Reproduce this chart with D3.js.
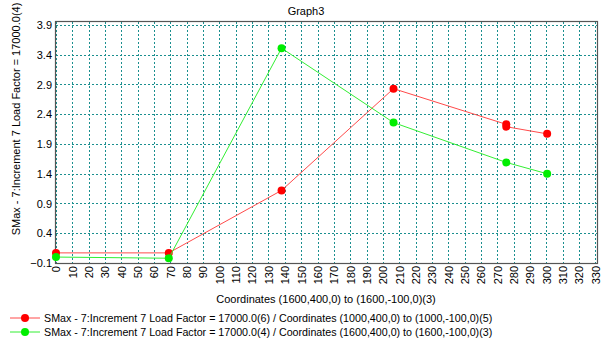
<!DOCTYPE html>
<html><head><meta charset="utf-8">
<script src="https://cdn.jsdelivr.net/npm/d3@7"></script>
<style>
body{margin:0;background:#fff;}
text{font-family:"Liberation Sans",Arial,sans-serif;fill:#000;}
</style></head>
<body><svg id="c" width="602" height="342"></svg>
<script>
const title = "Graph3";
const xLabel = "Coordinates (1600,400,0) to (1600,-100,0)(3)";
const yLabel = "SMax - 7:Increment 7 Load Factor = 17000.0(4)";
const xTicks = d3.range(0, 331, 10);
const yTicks = [-0.1, 0.4, 0.9, 1.4, 1.9, 2.4, 2.9, 3.4, 3.9];
const redName = "SMax - 7:Increment 7 Load Factor = 17000.0(6) / Coordinates (1000,400,0) to (1000,-100,0)(5)";
const greenName = "SMax - 7:Increment 7 Load Factor = 17000.0(4) / Coordinates (1600,400,0) to (1600,-100,0)(3)";
const redX = [0, 69, 138, 206.5, 275.5, 275.5, 300.5];
const redY = [0.07, 0.07, 1.12, 2.83, 2.23, 2.19, 2.07];
const greenX = [0, 69, 138, 206.5, 275.5, 300.5];
const greenY = [0.0, -0.02, 3.51, 2.26, 1.59, 1.40];

const svg = d3.select("#c");
const L = 56, R = 597, T = 22, B = 263;
const x = d3.scaleLinear().domain([0, 331]).range([L, R]);
const y = d3.scaleLinear().domain([-0.1, 3.95]).range([B, T]);

// grid
const grid = svg.append("g");
grid.selectAll("line.v").data(xTicks).join("line")
  .attr("x1", d => Math.round(x(d)) + 0.5).attr("x2", d => Math.round(x(d)) + 0.5)
  .attr("y1", T).attr("y2", B)
  .attr("stroke", "#1a8f8f").attr("stroke-dasharray", "2,2").attr("stroke-width", 1);
grid.selectAll("line.h").data(yTicks).join("line")
  .attr("y1", d => Math.round(y(d)) + 0.5).attr("y2", d => Math.round(y(d)) + 0.5)
  .attr("x1", L).attr("x2", R)
  .attr("stroke", "#1a8f8f").attr("stroke-dasharray", "2,2").attr("stroke-width", 1);

// frame
svg.append("rect").attr("x", L - 0.5).attr("y", T - 0.5).attr("width", R - L + 1).attr("height", B - T + 1)
  .attr("fill", "none").attr("stroke", "#555").attr("stroke-width", 1.2);

const yAxis = svg.append("g").attr("transform", `translate(${L},0)`)
  .call(d3.axisLeft(y).tickValues(yTicks).tickFormat(d3.format(".1f")).tickSize(0).tickPadding(4));
yAxis.select(".domain").remove();
yAxis.selectAll("text").style("font-size", "11px").attr("font-family", null);

const xAxis = svg.append("g").attr("transform", `translate(0,${B})`)
  .call(d3.axisBottom(x).tickValues(xTicks).tickFormat(d3.format("d")).tickSize(0));
xAxis.select(".domain").remove();
xAxis.selectAll("text").style("font-size", "11px").attr("font-family", null)
  .attr("transform", "rotate(-90)").attr("text-anchor", "end")
  .attr("x", -3).attr("y", 0).attr("dy", "0.35em");

svg.append("text").attr("x", 306).attr("y", 15).attr("text-anchor", "middle").style("font-size", "11px").text(title);
svg.append("text").attr("x", 326).attr("y", 303).attr("text-anchor", "middle").style("font-size", "11px").text(xLabel);
svg.append("text").attr("transform", "translate(20,119) rotate(-90)").attr("text-anchor", "middle").style("font-size", "11px").text(yLabel);

const series = [
  {name: redName, xs: redX, ys: redY, line: "#ff4a4a", dot: "#ff0000"},
  {name: greenName, xs: greenX, ys: greenY, line: "#33ee33", dot: "#00ee00"}
];
const lineGen = d3.line().x(d => x(d[0])).y(d => y(d[1]));
series.forEach((s, i) => {
  const pts = s.xs.map((v, j) => [v, s.ys[j]]);
  svg.append("path").datum(pts).attr("d", lineGen).attr("fill", "none").attr("stroke", s.line).attr("stroke-width", 1);
  svg.append("g").selectAll("circle").data(pts).join("circle")
    .attr("cx", d => x(d[0])).attr("cy", d => y(d[1])).attr("r", 4).attr("fill", s.dot);
  const ly = 318 + i * 14;
  svg.append("line").attr("x1", 10).attr("x2", 40).attr("y1", ly).attr("y2", ly).attr("stroke", s.line).attr("stroke-width", 1);
  svg.append("circle").attr("cx", 25).attr("cy", ly).attr("r", 4).attr("fill", s.dot);
  svg.append("text").attr("x", 44).attr("y", ly + 4).style("font-size", "10.7px").text(s.name);
});
</script></body></html>
